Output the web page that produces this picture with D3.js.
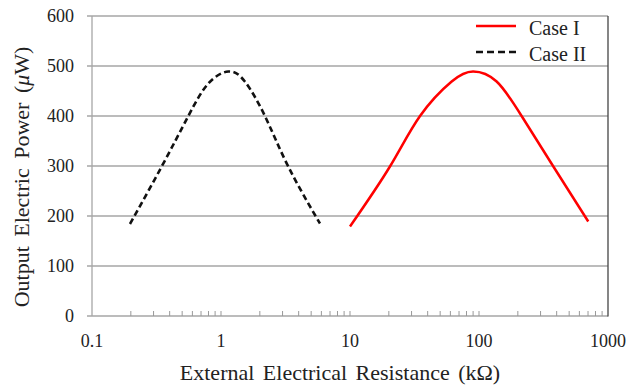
<!DOCTYPE html>
<html>
<head>
<meta charset="utf-8">
<script src="https://cdn.jsdelivr.net/npm/d3@7"></script>
<style>
  body { margin: 0; background: #fff; }
  text { font-family: "Liberation Serif", "Times New Roman", serif; fill: #222; }
</style>
</head>
<body>
<svg width="630" height="385"></svg>
<script>
// DATA
const caseIResistance = [10, 20.4, 34.9, 61.4, 90, 137, 214, 377, 703];
const caseIPower = [179, 299, 400, 469, 489, 469, 400, 299, 189];
const caseIIResistance = [0.197, 0.347, 0.558, 0.797, 1.14, 1.53, 2.19, 3.32, 5.85];
const caseIIPower = [184, 299, 400, 465, 489, 469, 400, 299, 185];
const yTicks = [0, 100, 200, 300, 400, 500, 600];
const xTicks = [0.1, 1, 10, 100, 1000];
const seriesNames = ["Case I", "Case II"];

const svg = d3.select("svg");
const plotLeft = 92, plotRight = 608, plotTop = 16, plotBottom = 316;

// SCALES
const x = d3.scaleLog().domain([0.1, 1000]).range([plotLeft, plotRight]);
const y = d3.scaleLinear().domain([0, 600]).range([plotBottom, plotTop]);

// GRID + left ticks
svg.append("g")
  .selectAll("line")
  .data(yTicks.filter(d => d > 0))
  .enter()
  .append("line")
  .attr("x1", plotLeft - 5)
  .attr("x2", plotRight)
  .attr("y1", d => y(d))
  .attr("y2", d => y(d))
  .attr("stroke", "#a6a6a6")
  .attr("stroke-width", 1.3);

// y labels
svg.append("g")
  .selectAll("text")
  .data(yTicks)
  .enter()
  .append("text")
  .attr("x", 74)
  .attr("y", d => y(d))
  .attr("dy", "0.35em")
  .attr("text-anchor", "end")
  .attr("font-size", "18px")
  .text(d => d);

// axis lines
svg.append("line")
  .attr("x1", plotLeft).attr("x2", plotLeft)
  .attr("y1", plotTop).attr("y2", plotBottom)
  .attr("stroke", "#a6a6a6").attr("stroke-width", 1.3);
svg.append("line")
  .attr("x1", plotLeft - 5).attr("x2", plotRight)
  .attr("y1", plotBottom).attr("y2", plotBottom)
  .attr("stroke", "#a6a6a6").attr("stroke-width", 1.5);
svg.append("line")
  .attr("x1", plotRight).attr("x2", plotRight)
  .attr("y1", plotTop).attr("y2", plotBottom + 0.5)
  .attr("stroke", "#444").attr("stroke-width", 1.3);

// x axis, ticks pointing inward
const minorTicks = x.ticks().filter(d => d > 0.1 && d < 1000);
svg.append("g")
  .selectAll("line")
  .data(minorTicks)
  .enter()
  .append("line")
  .attr("x1", d => x(d))
  .attr("x2", d => x(d))
  .attr("y1", plotBottom)
  .attr("y2", plotBottom - 5)
  .attr("stroke", "#999")
  .attr("stroke-width", 1);

svg.append("g")
  .selectAll("text")
  .data(xTicks)
  .enter()
  .append("text")
  .attr("x", d => x(d))
  .attr("y", 347)
  .attr("text-anchor", "middle")
  .attr("font-size", "18px")
  .text(d => d);

// LINES
const line = d3.line()
  .x(d => x(d[0]))
  .y(d => y(d[1]))
  .curve(d3.curveNatural);

svg.append("path")
  .datum(d3.zip(caseIResistance, caseIPower))
  .attr("d", line)
  .attr("fill", "none")
  .attr("stroke", "#ff0000")
  .attr("stroke-width", 2.5);

svg.append("path")
  .datum(d3.zip(caseIIResistance, caseIIPower))
  .attr("d", line)
  .attr("fill", "none")
  .attr("stroke", "#111")
  .attr("stroke-width", 2.6)
  .attr("stroke-dasharray", "6,3.5");

// LEGEND
const legend = svg.append("g").attr("transform", "translate(476, 26)");
seriesNames.forEach((name, i) => {
  const g = legend.append("g").attr("transform", `translate(0, ${i * 26})`);
  g.append("line")
    .attr("x1", 0).attr("x2", 40)
    .attr("stroke", i === 0 ? "#ff0000" : "#111")
    .attr("stroke-width", 2.6)
    .attr("stroke-dasharray", i === 0 ? null : "7,4");
  g.append("text")
    .attr("x", 53)
    .attr("y", 9)
    .attr("font-size", "20px")
    .text(name);
});

// AXIS TITLES
svg.append("text")
  .attr("x", 340)
  .attr("y", 380)
  .attr("text-anchor", "middle")
  .attr("font-size", "22px")
  .attr("word-spacing", "3px")
  .text("External Electrical Resistance (kΩ)");

const yTitle = svg.append("text")
  .attr("transform", "translate(29, 177) rotate(-90)")
  .attr("text-anchor", "middle")
  .attr("font-size", "22px")
  .attr("word-spacing", "4px");
yTitle.append("tspan").text("Output Electric Power (");
yTitle.append("tspan").attr("font-style", "italic").text("μ");
yTitle.append("tspan").text("W)");
</script>
</body>
</html>
